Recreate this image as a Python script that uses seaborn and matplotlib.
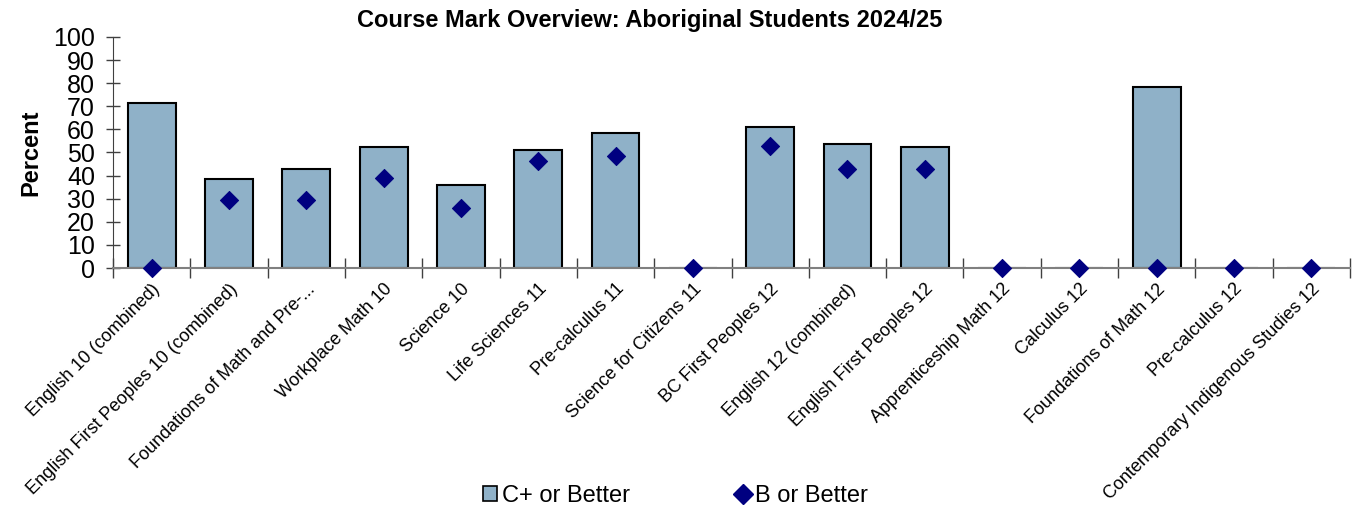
import numpy as np
import matplotlib
matplotlib.use("Agg")
import matplotlib.pyplot as plt
import seaborn as sns
from matplotlib.patches import Patch
from matplotlib.lines import Line2D

courses = ["English 10 (combined)", "English First Peoples 10 (combined)",
           "Foundations of Math and Pre-...", "Workplace Math 10", "Science 10",
           "Life Sciences 11", "Pre-calculus 11", "Science for Citizens 11",
           "BC First Peoples 12", "English 12 (combined)", "English First Peoples 12",
           "Apprenticeship Math 12", "Calculus 12", "Foundations of Math 12",
           "Pre-calculus 12", "Contemporary Indigenous Studies 12"]
c_plus = [71.5, 38.5, 43, 52.5, 36, 51, 58.5, 0, 61, 53.5, 52.5, 0, 0, 78.5, 0, 0]
b_plus = [0, 29.5, 29.5, 39, 26, 46.5, 48.5, 0, 53, 43, 43, 0, 0, 0, 0, 0]

sns.set_style("white")
plt.rcParams['font.family'] = ['Liberation Sans', 'DejaVu Sans']
plt.rcParams.update({"text.color": "black", "axes.labelcolor": "black",
                     "xtick.color": "black", "ytick.color": "black"})

fig = plt.figure(figsize=(13.56, 5.08), dpi=100)
ax = fig.add_axes([113/1356, 1 - 268/508, (1350-113)/1356, (268-37)/508])

bar_col = "#8FB1C8"
sns.barplot(x=courses, y=c_plus, color=bar_col, edgecolor="black", linewidth=1.5,
            width=0.62, saturation=1, ax=ax)
sns.scatterplot(x=courses, y=b_plus, marker="D", color="#000080", s=85,
                edgecolor="#000080", zorder=5, clip_on=False, ax=ax)

n = len(courses)
ax.set_xlim(-0.5, n - 0.5)
ax.set_ylim(0, 100)
ax.set_yticks(np.arange(0, 101, 10))
ax.tick_params(axis="y", left=True, labelsize=18, direction="inout", length=10,
               width=1, color="#404040", pad=8, labelcolor="black")
ax.set_xticks(np.arange(n))
ax.set_xticklabels(courses, rotation=45, ha="right", rotation_mode="anchor", fontsize=13)
ax.tick_params(axis="x", which="major", bottom=False, length=0, pad=9, labelcolor="black")
ax.set_xticks(np.arange(n + 1) - 0.5, minor=True)
ax.tick_params(axis="x", which="minor", bottom=True, direction="inout", length=14,
               color="#404040", width=1)

for s in ["top", "right"]:
    ax.spines[s].set_visible(False)
ax.spines["left"].set_color("#404040")
ax.spines["bottom"].set_color("#808080")
ax.spines["bottom"].set_linewidth(1.5)

ax.set_ylabel("Percent", fontsize=17, fontweight="bold")
ax.yaxis.set_label_coords(-0.057, 0.5)
fig.text(650/1356, 1 - 20/508, "Course Mark Overview: Aboriginal Students 2024/25",
         fontsize=17, fontweight="bold", ha="center", va="center")

handles = [Patch(facecolor=bar_col, edgecolor="black", linewidth=1.2, label="C+ or Better"),
           Line2D([0], [0], marker="D", color="none", markerfacecolor="#000080",
                  markeredgecolor="#000080", markersize=10, label="B or Better")]
fig.legend(handles=handles, loc="center", bbox_to_anchor=(0.498, 0.024), ncol=2,
           frameon=False, fontsize=17, columnspacing=4.5, handlelength=0.6,
           handleheight=0.6, handletextpad=0.2)

fig.savefig("out.png", dpi=100)
